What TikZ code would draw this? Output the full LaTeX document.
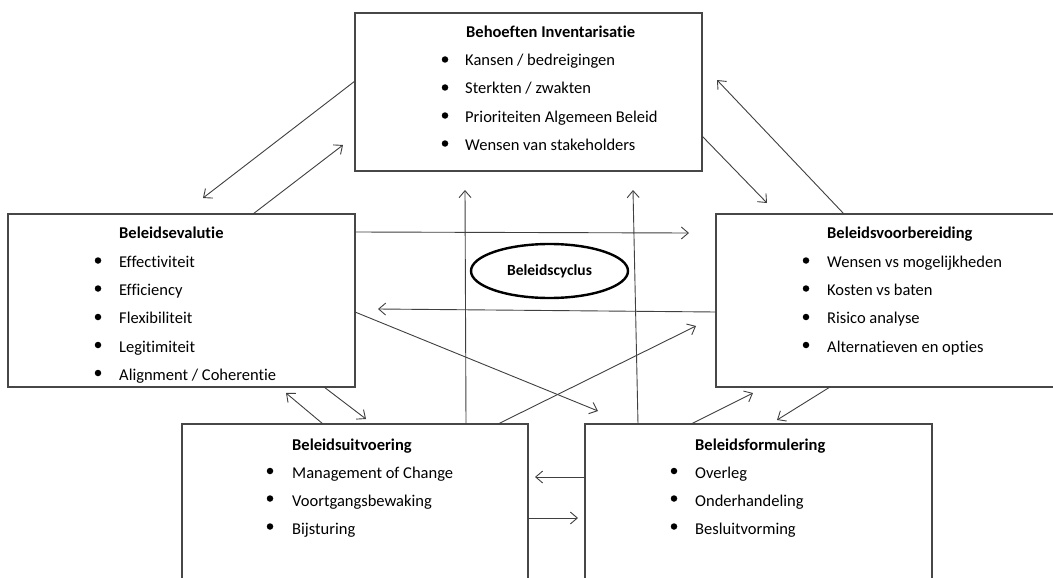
\documentclass[tikz,border=0pt]{standalone}
\usepackage{fontspec}
\setmainfont{Carlito}[Ligatures={NoCommon,NoContextual}]
\usetikzlibrary{arrows.meta,shapes.geometric}
\tikzset{
  box/.style={draw=black!72,line width=1.2pt,rectangle,inner sep=0pt,outer sep=0pt,fill=white},
  ttl/.style={anchor=base west,inner sep=0pt,font=\fontsize{16.5}{18}\selectfont\bfseries},
  itm/.style={anchor=base west,inner sep=0pt,font=\fontsize{16.5}{18}\selectfont},
  bul/.style={circle,fill=black,inner sep=0pt,minimum size=6.5pt},
  arr/.style={draw=black!75,line width=0.9pt,-{Straight Barb[length=7pt,width=12pt,line width=0.9pt]}}
}
\begin{document}
\begin{tikzpicture}[x=1pt,y=-1pt]
\useasboundingbox (0,0) rectangle (1053,578);
\clip (0,0) rectangle (1053,578);
\fill[white] (0,0) rectangle (1053,578);
% boxes
\node[box,minimum width=347pt,minimum height=158pt] (top) at (528.5,92) {};
\node[box,minimum width=347pt,minimum height=173pt] (lft) at (181.5,300.5) {};
\node[box,minimum width=346pt,minimum height=173pt] (rgt) at (889,300.5) {};
\node[box,minimum width=346pt,minimum height=200pt] (bl) at (355,524) {};
\node[box,minimum width=347pt,minimum height=200pt] (br) at (758.5,524) {};
% ellipse
\node[ellipse,draw=black,line width=2.4pt,minimum width=157pt,minimum height=54pt,inner sep=0pt,font=\fontsize{15.5}{17}\selectfont\bfseries] (cyc) at (549.5,271) {Beleidscyclus};
% top texts
\node[ttl] (t0) at (466,38) {Behoeften Inventarisatie};
\node[itm] (t1) at (465,66) {Kansen / bedreigingen};
\node[itm] (t2) at (465,94) {Sterkten / zwakten};
\node[itm] (t3) at (465,122) {Prioriteiten Algemeen Beleid};
\node[itm] (t4) at (465,150) {Wensen van stakeholders};
\foreach \y/\n in {59.5/1,87.5/2,115.5/3,143.5/4} \node[bul] (tb\n) at (445,\y) {};
% left texts
\node[ttl] (l0) at (119,238) {Beleidsevalutie};
\node[itm] (l1) at (119,267) {Effectiviteit};
\node[itm] (l2) at (119,295) {Efficiency};
\node[itm] (l3) at (119,323.5) {Flexibiliteit};
\node[itm] (l4) at (119,352) {Legitimiteit};
\node[itm] (l5) at (119,380) {Alignment / Coherentie};
\foreach \y/\n in {260.5/1,288.5/2,317/3,345/4,373/5} \node[bul] (lb\n) at (98,\y) {};
% right texts
\node[ttl] (r0) at (827,238) {Beleidsvoorbereiding};
\node[itm] (r1) at (827,267) {Wensen vs mogelijkheden};
\node[itm] (r2) at (827,295) {Kosten vs baten};
\node[itm] (r3) at (827,323.5) {Risico analyse};
\node[itm] (r4) at (827,352) {Alternatieven en opties};
\foreach \y/\n in {260.5/1,288.5/2,317/3,345/4} \node[bul] (rb\n) at (806,\y) {};
% bottom-left texts
\node[ttl] (u0) at (292,450) {Beleidsuitvoering};
\node[itm] (u1) at (292,478) {Management of Change};
\node[itm] (u2) at (292,506) {Voortgangsbewaking};
\node[itm] (u3) at (292,534) {Bijsturing};
\foreach \y/\n in {471/1,498.5/2,526.5/3} \node[bul] (ub\n) at (270,\y) {};
% bottom-right texts
\node[ttl] (f0) at (695,450) {Beleidsformulering};
\node[itm] (f1) at (695,478) {Overleg};
\node[itm] (f2) at (695,506) {Onderhandeling};
\node[itm] (f3) at (695,534) {Besluitvorming};
\foreach \y/\n in {471/1,498.5/2,526.5/3} \node[bul] (fb\n) at (674,\y) {};
% connector end points
\coordinate (a1s) at (355,81);   \coordinate (a1e) at (203,198);
\coordinate (a2s) at (253,214);  \coordinate (a2e) at (343,145);
\coordinate (a3s) at (702,136);  \coordinate (a3e) at (767,203);
\coordinate (a4s) at (844,214);  \coordinate (a4e) at (717,80);
\coordinate (a5s) at (355,232);  \coordinate (a5e) at (689,233);
\coordinate (a6s) at (716,312);  \coordinate (a6e) at (378,309);
\coordinate (a7s) at (466,424);  \coordinate (a7e) at (465,190);
\coordinate (a8s) at (638,424);  \coordinate (a8e) at (633,190);
\coordinate (a9s) at (355,312);  \coordinate (a9e) at (598,411);
\coordinate (a10s) at (498,424); \coordinate (a10e) at (696,326);
\coordinate (a11s) at (323,424); \coordinate (a11e) at (286,393);
\coordinate (a12s) at (324,387); \coordinate (a12e) at (366,419);
\coordinate (a13s) at (691,424); \coordinate (a13e) at (753,393);
\coordinate (a14s) at (830,387); \coordinate (a14e) at (777,420);
\coordinate (a15s) at (585,477); \coordinate (a15e) at (535,477);
\coordinate (a16s) at (528,518); \coordinate (a16e) at (578,518);
\foreach \i in {1,...,16} \draw[arr] (a\i s) -- (a\i e);
\end{tikzpicture}
\end{document}
